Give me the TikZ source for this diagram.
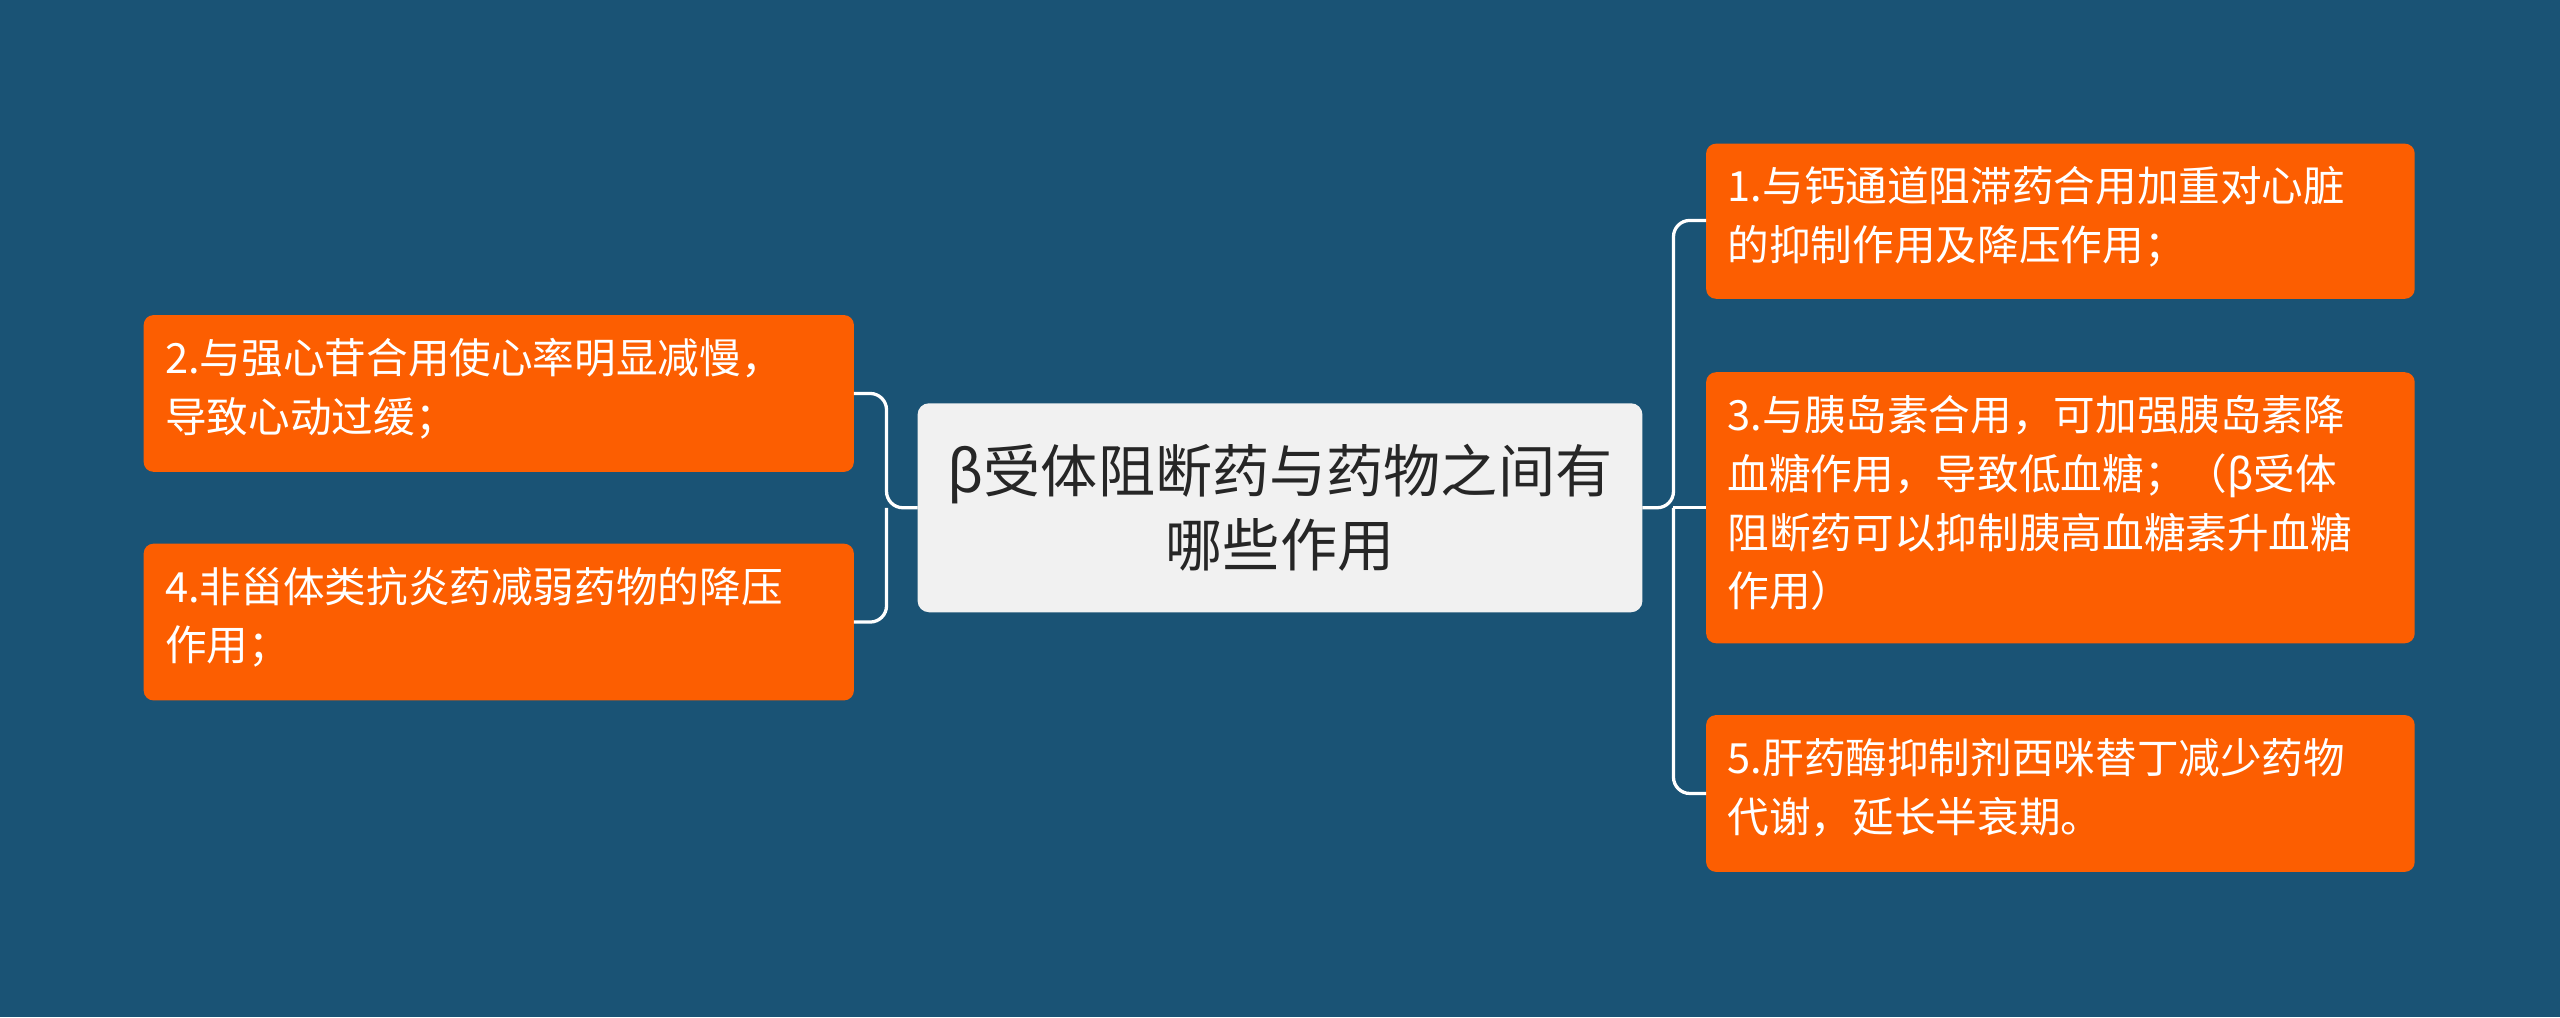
\documentclass[tikz,border=0pt]{standalone}
\usepackage{fontspec}
\setmainfont{Noto Sans CJK SC}
\definecolor{bg}{RGB}{26,83,117}
\definecolor{org}{RGB}{252,94,1}
\definecolor{cen}{RGB}{241,241,241}
\begin{document}
\begin{tikzpicture}[x=1pt,y=-1pt,
 leaf/.style={rounded corners=6pt,text=white,align=left,anchor=north west,inner sep=0pt,
   font=\fontsize{25.5}{36}\selectfont,text width=420pt},
 link/.style={draw=white,line width=2pt,rounded corners=10pt}]
\fill[bg] (0,0) rectangle (1568,623);
\fill[cen,rounded corners=7pt] (562,247) rectangle (1006,375);
\node[align=center,font=\fontsize{35}{45}\selectfont,text=black!85] (c) at (784,311) {β受体阻断药与药物之间有\\哪些作用};
\coordinate (cl) at (562,311); \coordinate (cr) at (1006,311);
\fill[org,rounded corners=6pt] (88,193) rectangle (523,289);
\fill[org,rounded corners=6pt] (88,333) rectangle (523,429);
\fill[org,rounded corners=6pt] (1045,88) rectangle (1479,183);
\fill[org,rounded corners=6pt] (1045,228) rectangle (1479,394);
\fill[org,rounded corners=6pt] (1045,438) rectangle (1479,534);
\node[leaf] (n2) at (101,207) {2.与强心苷合用使心率明显减慢，\\导致心动过缓；};
\node[leaf] (n4) at (101,347) {4.非甾体类抗炎药减弱药物的降压\\作用；};
\node[leaf] (n1) at (1058,102) {1.与钙通道阻滞药合用加重对心脏\\的抑制作用及降压作用；};
\node[leaf] (n3) at (1058,242) {3.与胰岛素合用，可加强胰岛素降\\血糖作用，导致低血糖；（β受体\\阻断药可以抑制胰高血糖素升血糖\\作用）};
\node[leaf] (n5) at (1058,452) {5.肝药酶抑制剂西咪替丁减少药物\\代谢，延长半衰期。};
\coordinate (l2) at (523,241); \coordinate (l4) at (523,381);
\coordinate (r1) at (1045,135); \coordinate (r3) at (1045,311); \coordinate (r5) at (1045,486);
\draw[link] (cl) -- (543,311) |- (l2);
\draw[link] (543,311) |- (l4);
\draw[link] (cr) -- (1025,311) |- (r1);
\draw[link] (1025,311) |- (r5);
\draw[link] (1025,311) -- (r3);
\end{tikzpicture}
\end{document}
